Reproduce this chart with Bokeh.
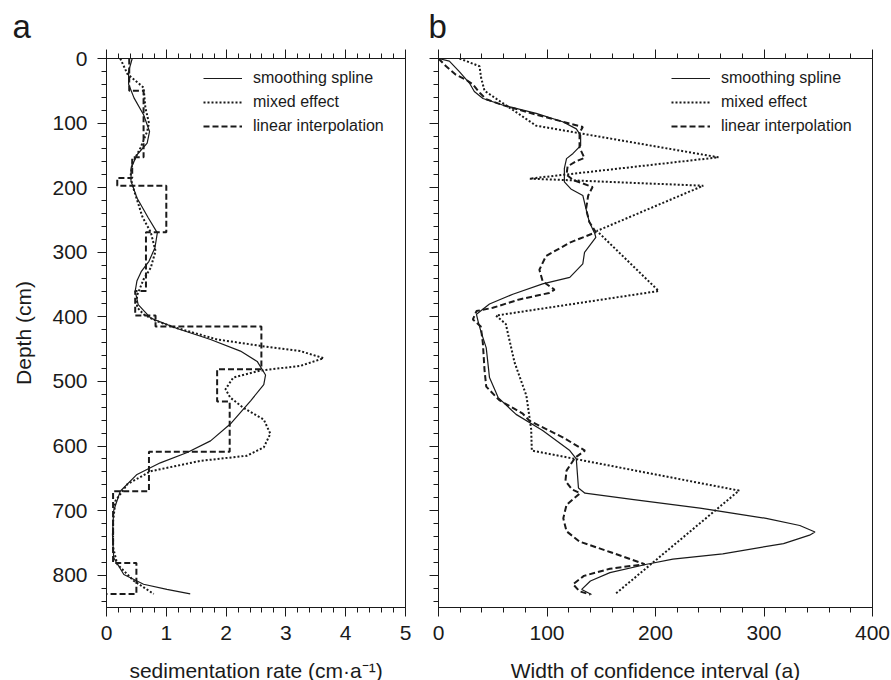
import numpy as np
from bokeh.plotting import figure
from bokeh.models import (LinearAxis, Range1d, Legend, LegendItem,
                          SingleIntervalTicker, CustomLabelingPolicy)
from bokeh.layouts import row
from bokeh.embed import file_html
from bokeh.resources import INLINE

FONT = "Liberation Sans"
INK = "#1a1a1a"

# ---------------- panel a : sedimentation rate (cm/a) vs depth (cm)
spline_a_depth = [0, 20, 40, 61, 87, 113, 131, 149, 170, 190, 216, 247, 270, 293,
                  314, 330, 344, 360, 381, 402, 418, 435, 453, 469, 490, 505, 530,
                  566, 592, 610, 626, 644, 670, 700, 737, 773, 799, 814, 822, 829]
spline_a_rate = [0.43, 0.37, 0.37, 0.46, 0.62, 0.72, 0.68, 0.51, 0.41, 0.41, 0.51,
                 0.70, 0.85, 0.81, 0.71, 0.58, 0.51, 0.48, 0.53, 0.74, 1.18, 1.74,
                 2.24, 2.52, 2.66, 2.63, 2.41, 2.07, 1.74, 1.35, 0.90, 0.51, 0.23,
                 0.12, 0.10, 0.12, 0.29, 0.62, 1.01, 1.40]

mixed_a_depth = [0, 24, 45, 76, 100, 113, 138, 163, 184, 204, 245, 269, 298, 324,
                 342, 367, 385, 396, 406, 416, 435, 445, 453, 464, 476, 483, 494,
                 512, 525, 541, 559, 581, 602, 615, 623, 639, 659, 685, 716, 757,
                 783, 809, 829]
mixed_a_rate = [0.23, 0.35, 0.62, 0.65, 0.71, 0.68, 0.57, 0.43, 0.40, 0.46, 0.60,
                0.74, 0.82, 0.74, 0.62, 0.51, 0.51, 0.62, 0.82, 1.13, 1.85, 2.58,
                3.24, 3.63, 3.24, 2.58, 2.12, 1.99, 2.07, 2.29, 2.63, 2.74, 2.63,
                2.35, 1.57, 0.74, 0.35, 0.15, 0.11, 0.11, 0.18, 0.46, 0.79]

# linear interpolation: constant rate between consecutive depth breaks
lin_a_breaks = [0, 50, 153, 185, 197, 269, 360, 398, 415, 481, 531, 609, 670,
                781, 829, 829]
lin_a_rate = [0.38, 0.62, 0.43, 0.18, 1.00, 0.66, 0.48, 0.82, 2.59, 1.85, 2.06,
              0.71, 0.11, 0.50, 0.01]

# ---------------- panel b : width of confidence interval (a) vs depth (cm)
spline_b_depth = [0, 4, 20, 38, 51, 62, 72, 85, 98, 109, 119, 135, 147, 155, 170,
                  191, 202, 212, 233, 253, 271, 277, 300, 318, 339, 349, 365, 380,
                  396, 407, 422, 448, 494, 525, 551, 576, 607, 620, 665, 673, 683,
                  696, 712, 723, 733, 738, 751, 767, 775, 783, 796, 809, 822, 830]
spline_b_width = [0, 10, 19, 28.5, 33, 41, 59, 90, 114.5, 127, 131, 131, 124, 118,
                  116, 116, 122, 133, 136, 139, 144, 145, 134.6, 133, 121, 96, 68.5,
                  47, 35, 36.5, 39, 44, 47, 55, 71.5, 96, 121, 127, 129, 135, 180,
                  241, 302, 333, 347, 342, 318, 262, 216, 192, 158, 140, 132, 141]

mixed_b_depth = [0, 12, 30, 50, 104, 153, 186, 197, 267, 360, 398, 411, 470, 522,
                 574, 607, 669, 829]
mixed_b_width = [19.4, 37.8, 39.3, 42.4, 90, 258, 84, 244, 146, 203, 53, 62, 70,
                 81, 85.4, 86, 277, 163]

lin_b_depth = [0, 12, 25, 33, 40, 53, 63, 72, 87, 106, 115, 138, 154, 159, 167,
               180, 188, 199, 212, 233, 253, 269, 285, 306, 327, 345, 358, 363,
               373, 386, 391, 404, 415, 441, 482, 508, 529, 550, 561, 587, 607,
               618, 638, 654, 667, 673, 691, 712, 732, 748, 764, 783, 790, 801,
               814, 825, 830]
lin_b_width = [0, 7, 16, 25.5, 31.6, 38, 44, 59, 90, 133, 130, 130, 134.5, 127, 119,
               118, 124, 142, 138, 136, 139, 145, 121, 99, 93, 96, 107, 102, 74.6,
               50, 35, 31.7, 39, 40.9, 42.4, 44, 56, 77.7, 84, 115, 135, 126, 118,
               117, 123, 130.5, 118, 115, 118, 130, 158, 190, 158, 134, 124, 130, 140]

legend_labels = ["smoothing spline", "mixed effect", "linear interpolation"]


def steps(breaks, vals):
    d, v = [], []
    for i, r in enumerate(vals):
        d += [breaks[i], breaks[i + 1]]
        v += [r, r]
    return d, v


NO_LABELS = "for (const i of Array.from(indices)) { indices.unset(i) }; return indices"


def style_axis(ax, labels=True):
    ax.axis_line_color = INK
    ax.axis_line_width = 1
    ax.major_tick_line_color = INK
    ax.minor_tick_line_color = INK
    ax.major_tick_in = 0
    ax.major_tick_out = 9
    ax.minor_tick_in = 0
    ax.minor_tick_out = 5
    ax.major_label_text_font = FONT
    ax.major_label_text_color = INK
    ax.axis_label_text_font = FONT
    ax.axis_label_text_font_style = "normal"
    ax.axis_label_text_color = INK
    ax.axis_label_text_font_size = "21px"
    if labels:
        ax.major_label_text_font_size = "21px"
    else:
        ax.major_label_text_font_size = "0px"
        ax.major_label_standoff = 0
        ax.major_label_policy = CustomLabelingPolicy(code=NO_LABELS)


def make_panel(letter, xmax, xint, xlabel, ylabel_on, fw, mbl, mbr, title_off,
               legend_x, series):
    p = figure(frame_width=fw, frame_height=549, x_range=Range1d(0, xmax),
               y_range=Range1d(850, 0), output_backend="svg",
               toolbar_location=None, min_border_left=mbl, min_border_right=mbr,
               min_border_top=58, min_border_bottom=73)
    p.xgrid.visible = False
    p.ygrid.visible = False
    p.outline_line_color = INK
    p.outline_line_width = 1
    p.outline_line_alpha = 1
    p.background_fill_color = "white"
    p.border_fill_color = "white"

    p.xaxis.ticker = SingleIntervalTicker(interval=xint, num_minor_ticks=5)
    p.yaxis.ticker = SingleIntervalTicker(interval=100, num_minor_ticks=5)
    style_axis(p.xaxis[0])
    p.xaxis.axis_label = xlabel
    p.xaxis.major_label_standoff = 9
    p.xaxis.axis_label_standoff = 16
    style_axis(p.yaxis[0], labels=ylabel_on)
    if ylabel_on:
        p.yaxis.axis_label = "Depth (cm)"
        p.yaxis.major_label_standoff = 10
        p.yaxis.axis_label_standoff = 14

    top = LinearAxis(ticker=SingleIntervalTicker(interval=xint, num_minor_ticks=5))
    style_axis(top, labels=False)
    p.add_layout(top, "above")

    p.title.text = letter
    p.title.align = "left"
    p.title.text_font = FONT
    p.title.text_font_size = "33px"
    p.title.text_font_style = "normal"
    p.title.text_color = INK
    p.title.offset = title_off
    p.title.standoff = 10

    (sx, sd), (mx, md), (lx, ld) = series
    r1 = p.line(sx, sd, line_color=INK, line_width=1.2)
    r2 = p.line(mx, md, line_color=INK, line_width=2, line_dash="2 2")
    r3 = p.line(lx, ld, line_color=INK, line_width=2, line_dash="6 3")

    leg = Legend(items=[LegendItem(label=legend_labels[0], renderers=[r1]),
                        LegendItem(label=legend_labels[1], renderers=[r2]),
                        LegendItem(label=legend_labels[2], renderers=[r3])],
                 location=(legend_x, 471), glyph_width=39, glyph_height=20,
                 label_height=20, spacing=4, padding=0, margin=0,
                 label_standoff=11, border_line_alpha=0, background_fill_alpha=0,
                 label_text_font=FONT, label_text_font_size="16px",
                 label_text_color=INK)
    p.add_layout(leg)
    return p


lin_a_d, lin_a_r = steps(lin_a_breaks, lin_a_rate)

pa = make_panel("a", 5, 1, "sedimentation rate (cm\u00b7a\u207b\u00b9)", True, 299,
                106, 15, -94, 97,
                [(spline_a_rate, spline_a_depth), (mixed_a_rate, mixed_a_depth),
                 (lin_a_r, lin_a_d)])
pb = make_panel("b", 400, 100, "Width of confidence interval (a)", False, 434,
                18, 19, -10, 233,
                [(spline_b_width, spline_b_depth), (mixed_b_width, mixed_b_depth),
                 (lin_b_width, lin_b_depth)])

layout = row(pa, pb)
open("out.html", "w").write(file_html(layout, INLINE))
